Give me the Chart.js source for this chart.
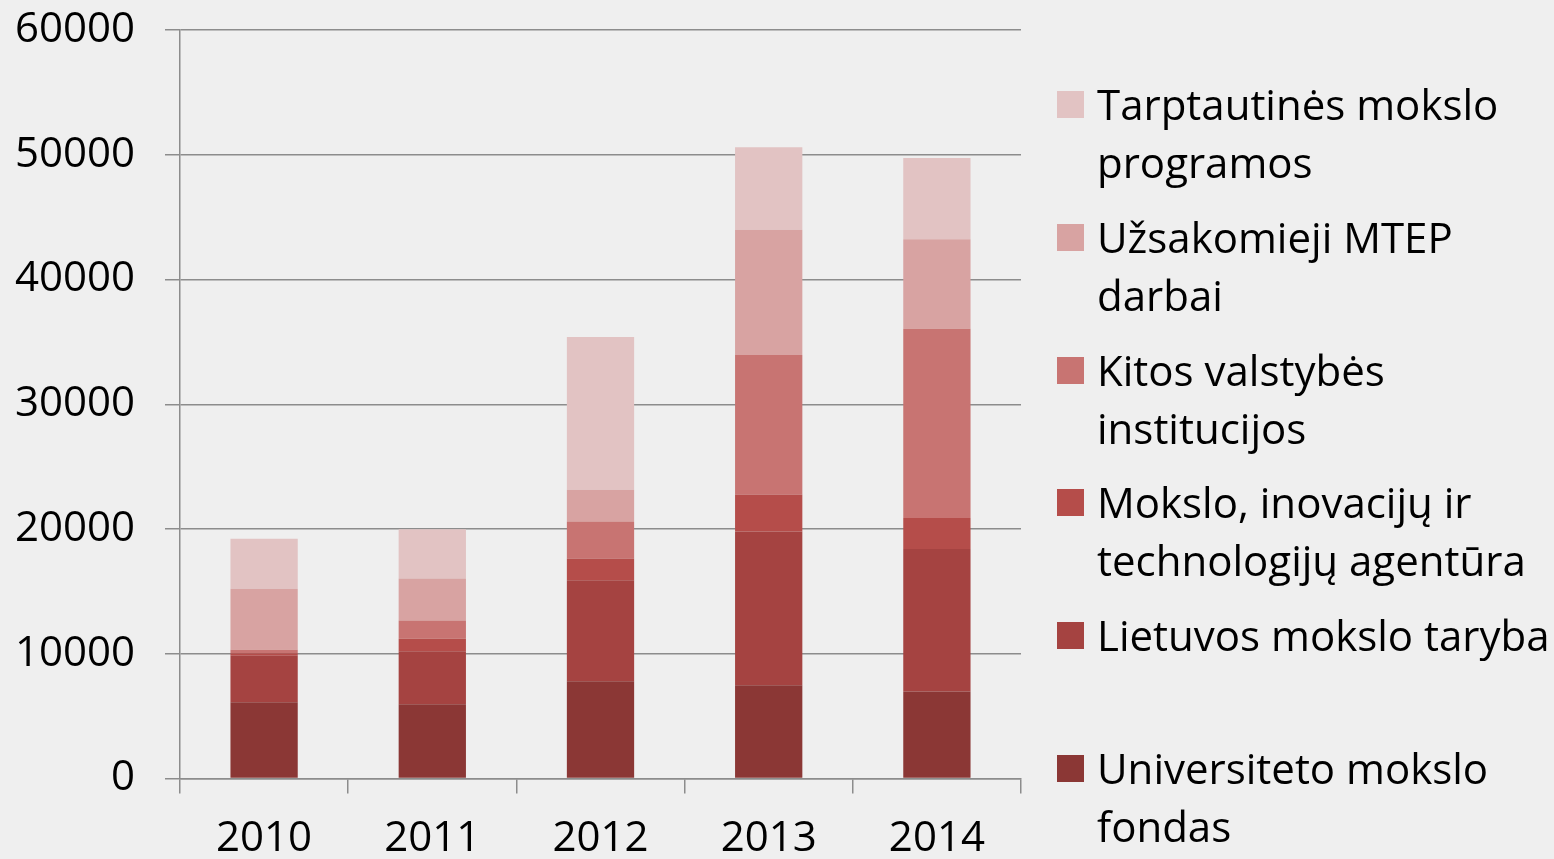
<!DOCTYPE html>
<html>
<head>
<meta charset="utf-8">
<script src="https://cdn.jsdelivr.net/npm/chart.js@4"></script>
<style>
  html, body { margin: 0; padding: 0; background: #efefef; }
  #wrap { position: relative; width: 1554px; height: 859px; }
  #legend { position: absolute; left: 1057px; top: 0; font-family: "Open Sans", sans-serif; font-size: 42px; color: #000; }
  .item { position: absolute; left: 0; width: 497px; }
  .box { position: absolute; left: 0; top: 16px; width: 27px; height: 27px; }
  .txt { position: absolute; left: 40px; top: 0; line-height: 58px; white-space: nowrap; }
</style>
</head>
<body>
<div id="wrap">
  <canvas id="chart" width="1554" height="859"></canvas>
  <div id="legend"></div>
</div>
<script>
const years = ['2010', '2011', '2012', '2013', '2014'];

// stacked from the bottom up
const universiteto = [6120, 5960, 7800, 7480, 6970];
const lietuvos = [3720, 4250, 8100, 12320, 11420];
const mita = [210, 990, 1740, 2960, 2490];
const kitos = [270, 1470, 2960, 11190, 15180];
const uzsakomieji = [4890, 3370, 2540, 10040, 7170];
const tarptautines = [4010, 3930, 12260, 6610, 6510];

const seriesNames = [
  ['Universiteto mokslo', 'fondas'],
  ['Lietuvos mokslo taryba'],
  ['Mokslo, inovacijų ir', 'technologijų agentūra'],
  ['Kitos valstybės', 'institucijos'],
  ['Užsakomieji MTEP', 'darbai'],
  ['Tarptautinės mokslo', 'programos']
];
const seriesData = [universiteto, lietuvos, mita, kitos, uzsakomieji, tarptautines];
const seriesColors = ['#8b3735', '#a54341', '#b54d4a', '#c87472', '#d8a3a2', '#e2c3c3'];

const yTicks = [0, 10000, 20000, 30000, 40000, 50000, 60000];
const gridColor = '#8c8c8c';
const font = { family: 'Open Sans', size: 42, lineHeight: 1.2 };

const ctx = document.getElementById('chart').getContext('2d');

const chart = new Chart(ctx, {
  type: 'bar',
  data: {
    labels: years,
    datasets: seriesData.map((d, i) => ({
      label: seriesNames[i].join(' '),
      data: d,
      backgroundColor: seriesColors[i],
      borderWidth: 0,
      barPercentage: 1,
      categoryPercentage: 0.4
    }))
  },
  options: {
    responsive: false,
    animation: false,
    layout: { padding: { top: 30, right: 533, left: 0, bottom: 0 } },
    plugins: {
      legend: { display: false },
      tooltip: { enabled: false }
    },
    scales: {
      x: {
        stacked: true,
        grid: {
          display: true,
          offset: true,
          drawOnChartArea: false,
          drawTicks: true,
          tickLength: 15,
          color: gridColor,
          lineWidth: 1.5
        },
        border: { display: true, color: gridColor, width: 1.5 },
        ticks: { color: '#000', font: font, padding: 20, maxRotation: 0 },
        afterFit: (scale) => {
          scale.height = 80.5;
          scale.paddingLeft = 0;
          scale.paddingRight = 0;
        }
      },
      y: {
        stacked: true,
        min: yTicks[0],
        max: yTicks[yTicks.length - 1],
        grid: {
          color: gridColor,
          lineWidth: 1.5,
          drawTicks: true,
          tickLength: 15
        },
        border: { display: true, color: gridColor, width: 1.5 },
        ticks: {
          stepSize: 10000,
          color: '#000',
          font: font,
          padding: 30,
          callback: (v) => String(v)
        },
        afterBuildTicks: (scale) => { scale.ticks = yTicks.map(v => ({ value: v })); },
        afterFit: (scale) => {
          scale.width = 180;
          scale.paddingTop = 0;
          scale.paddingBottom = 0;
        }
      }
    }
  }
});

// Legend, top entry = last dataset
const legend = document.getElementById('legend');
const slot = 132.8;
for (let k = 0; k < seriesNames.length; k++) {
  const i = seriesNames.length - 1 - k;
  const item = document.createElement('div');
  item.className = 'item';
  item.style.top = (75 + k * slot) + 'px';
  item.innerHTML = '<div class="box" style="background:' + seriesColors[i] + '"></div>' +
    '<div class="txt">' + seriesNames[i].join('<br>') + '</div>';
  legend.appendChild(item);
}
</script>
</body>
</html>
